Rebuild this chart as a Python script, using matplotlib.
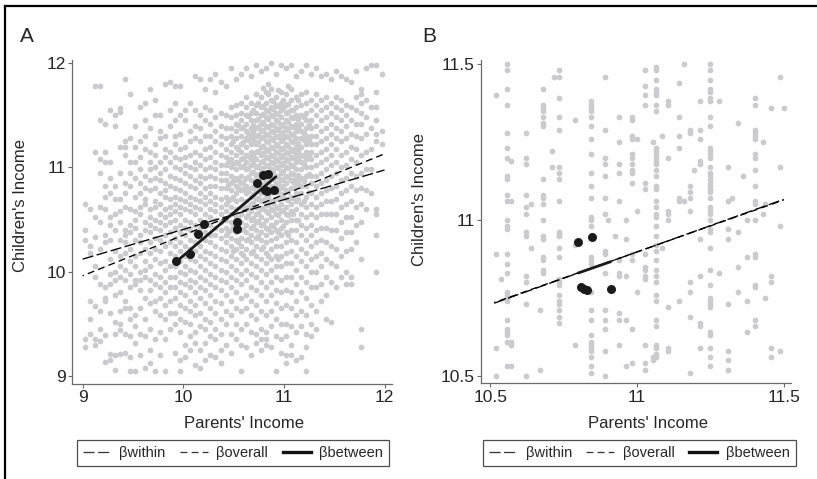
import numpy as np
import matplotlib
matplotlib.use('Agg')
import matplotlib.pyplot as plt
from matplotlib.lines import Line2D

plt.rcParams['font.family'] = ['Liberation Sans', 'DejaVu Sans']
plt.rcParams['lines.scale_dashes'] = False

# ---- panel A: gray cloud, one entry per column (x, list of y) ----
a_cols = [
    (9.02, [10.65, 10.40, 10.30, 9.35, 9.28]),
    (9.07, [10.60, 10.25, 10.18, 9.72, 9.55, 9.40]),
    (9.12, [11.78, 11.15, 10.52, 10.33, 10.05, 9.95, 9.67, 9.35, 9.30]),
    (9.17, [11.78, 11.45, 11.08, 10.95, 10.62, 10.48, 10.22, 9.88, 9.62, 9.45, 9.33]),
    (9.22, [11.42, 11.15, 11.05, 10.82, 10.72, 10.60, 10.35, 10.28, 9.85, 9.75, 9.72, 9.39, 9.13]),
    (9.27, [11.55, 11.05, 10.90, 10.75, 10.52, 10.45, 10.30, 10.12, 9.98, 9.88, 9.60, 9.21, 9.15]),
    (9.32, [11.50, 11.40, 10.82, 10.70, 10.55, 10.40, 10.20, 10.00, 9.92, 9.78, 9.52, 9.40, 9.20, 9.06]),
    (9.37, [11.53, 11.57, 11.20, 10.95, 10.70, 10.58, 10.48, 10.30, 10.15, 10.05, 9.95, 9.80, 9.62, 9.50, 9.44, 9.21]),
    (9.42, [11.85, 11.25, 11.20, 11.12, 10.85, 10.75, 10.62, 10.40, 10.35, 10.28, 10.18, 10.02, 9.92, 9.72, 9.65, 9.40, 9.22]),
    (9.47, [11.70, 11.28, 11.05, 10.95, 10.82, 10.60, 10.45, 10.38, 10.22, 10.10, 9.98, 9.85, 9.65, 9.55, 9.38, 9.18, 9.05]),
    (9.52, [11.40, 11.20, 11.05, 10.90, 10.72, 10.58, 10.50, 10.42, 10.30, 10.15, 10.05, 9.92, 9.88, 9.58, 9.48, 9.32, 9.05]),
    (9.57, [11.58, 11.25, 11.10, 10.98, 10.85, 10.75, 10.62, 10.55, 10.35, 10.28, 10.18, 10.00, 9.92, 9.82, 9.65, 9.40, 9.20]),
    (9.62, [11.62, 11.45, 11.30, 11.18, 10.92, 10.80, 10.70, 10.65, 10.48, 10.40, 10.22, 10.10, 10.02, 9.95, 9.75, 9.55, 9.38, 9.08]),
    (9.67, [11.75, 11.38, 11.15, 11.05, 10.98, 10.88, 10.78, 10.60, 10.52, 10.45, 10.38, 10.28, 10.18, 10.05, 9.92, 9.82, 9.70, 9.45, 9.25, 9.12]),
    (9.72, [11.65, 11.50, 11.22, 11.12, 11.00, 10.90, 10.80, 10.68, 10.62, 10.50, 10.42, 10.32, 10.22, 10.12, 9.98, 9.88, 9.72, 9.62, 9.35, 9.05]),
    (9.77, [11.50, 11.35, 11.28, 11.05, 10.95, 10.88, 10.75, 10.65, 10.55, 10.48, 10.40, 10.30, 10.20, 10.08, 9.95, 9.85, 9.75, 9.58, 9.42, 9.20]),
    (9.82, [11.80, 11.30, 11.18, 11.10, 10.98, 10.85, 10.78, 10.72, 10.60, 10.52, 10.45, 10.35, 10.25, 10.10, 10.02, 9.90, 9.80, 9.68, 9.55, 9.35, 9.05]),
    (9.87, [11.82, 11.55, 11.40, 11.15, 11.05, 10.92, 10.82, 10.70, 10.62, 10.55, 10.48, 10.38, 10.28, 10.18, 10.05, 9.95, 9.85, 9.72, 9.60, 9.45]),
    (9.92, [11.78, 11.62, 11.45, 11.30, 11.22, 11.10, 11.00, 10.90, 10.80, 10.72, 10.65, 10.58, 10.50, 10.42, 10.32, 10.25, 10.15, 10.05, 9.95, 9.85, 9.75, 9.60, 9.50, 9.22]),
    (9.97, [11.78, 11.50, 11.32, 11.18, 11.08, 10.98, 10.88, 10.78, 10.70, 10.62, 10.55, 10.45, 10.38, 10.28, 10.20, 10.10, 10.00, 9.90, 9.80, 9.68, 9.55, 9.42, 9.15, 9.05]),
    (10.02, [11.55, 11.45, 11.20, 11.10, 11.02, 10.95, 10.85, 10.75, 10.68, 10.60, 10.50, 10.42, 10.35, 10.25, 10.15, 10.05, 9.98, 9.88, 9.78, 9.65, 9.52, 9.30, 9.18]),
    (10.07, [11.62, 11.35, 11.25, 11.12, 11.00, 10.92, 10.82, 10.72, 10.65, 10.58, 10.48, 10.40, 10.30, 10.22, 10.12, 10.02, 9.92, 9.85, 9.72, 9.62, 9.50, 9.38, 9.25]),
    (10.12, [11.88, 11.55, 11.40, 11.28, 11.15, 11.05, 10.98, 10.88, 10.80, 10.70, 10.62, 10.55, 10.45, 10.38, 10.28, 10.20, 10.10, 10.00, 9.90, 9.80, 9.68, 9.58, 9.42, 9.32, 9.10]),
    (10.17, [11.85, 11.50, 11.38, 11.25, 11.12, 11.02, 10.92, 10.85, 10.75, 10.68, 10.60, 10.50, 10.42, 10.32, 10.25, 10.15, 10.05, 9.95, 9.85, 9.75, 9.60, 9.48, 9.25, 9.08]),
    (10.22, [11.75, 11.58, 11.45, 11.30, 11.18, 11.08, 10.98, 10.90, 10.80, 10.72, 10.65, 10.55, 10.48, 10.38, 10.30, 10.20, 10.12, 10.02, 9.92, 9.82, 9.70, 9.55, 9.45, 9.32, 9.15]),
    (10.27, [11.85, 11.55, 11.42, 11.30, 11.20, 11.10, 11.00, 10.92, 10.82, 10.75, 10.68, 10.60, 10.52, 10.45, 10.35, 10.28, 10.18, 10.08, 9.98, 9.88, 9.78, 9.65, 9.52, 9.38, 9.20]),
    (10.32, [11.90, 11.72, 11.48, 11.35, 11.25, 11.15, 11.05, 10.98, 10.90, 10.82, 10.72, 10.65, 10.58, 10.50, 10.42, 10.35, 10.25, 10.15, 10.05, 9.95, 9.85, 9.72, 9.60, 9.45, 9.35, 9.18]),
    (10.37, [11.82, 11.52, 11.40, 11.30, 11.22, 11.12, 11.02, 10.95, 10.88, 10.80, 10.70, 10.62, 10.55, 10.48, 10.40, 10.32, 10.22, 10.12, 10.02, 9.92, 9.82, 9.70, 9.55, 9.40, 9.25, 9.12]),
    (10.42, [11.78, 11.50, 11.38, 11.28, 11.18, 11.10, 11.02, 10.95, 10.88, 10.80, 10.72, 10.65, 10.58, 10.50, 10.42, 10.35, 10.28, 10.20, 10.10, 10.00, 9.90, 9.78, 9.62, 9.50, 9.30]),
    (10.47, [11.95, 11.58, 11.48, 11.38, 11.30, 11.22, 11.15, 11.08, 11.00, 10.92, 10.85, 10.78, 10.70, 10.62, 10.55, 10.48, 10.40, 10.32, 10.25, 10.15, 10.05, 9.95, 9.85, 9.72, 9.58, 9.40, 9.22]),
    (10.52, [11.85, 11.60, 11.50, 11.42, 11.35, 11.28, 11.20, 11.12, 11.05, 10.98, 10.90, 10.82, 10.75, 10.68, 10.60, 10.52, 10.45, 10.38, 10.30, 10.22, 10.12, 10.02, 9.92, 9.80, 9.65, 9.50, 9.35]),
    (10.57, [11.90, 11.62, 11.52, 11.45, 11.38, 11.30, 11.22, 11.15, 11.08, 11.00, 10.92, 10.85, 10.78, 10.70, 10.62, 10.55, 10.48, 10.40, 10.32, 10.25, 10.18, 10.08, 9.98, 9.88, 9.75, 9.62, 9.45, 9.30, 9.05]),
    (10.62, [11.95, 11.68, 11.58, 11.50, 11.42, 11.35, 11.28, 11.20, 11.12, 11.05, 10.98, 10.90, 10.82, 10.75, 10.68, 10.60, 10.52, 10.45, 10.38, 10.30, 10.22, 10.12, 10.02, 9.92, 9.78, 9.65, 9.50, 9.28]),
    (10.67, [11.88, 11.62, 11.52, 11.45, 11.38, 11.30, 11.22, 11.15, 11.08, 11.02, 10.95, 10.88, 10.80, 10.72, 10.65, 10.58, 10.50, 10.42, 10.35, 10.28, 10.18, 10.08, 9.98, 9.85, 9.72, 9.58, 9.42, 9.20]),
    (10.72, [11.98, 11.70, 11.60, 11.52, 11.45, 11.38, 11.30, 11.22, 11.15, 11.08, 11.00, 10.92, 10.85, 10.78, 10.70, 10.62, 10.55, 10.48, 10.40, 10.32, 10.25, 10.15, 10.05, 9.95, 9.82, 9.68, 9.55, 9.40, 9.32]),
    (10.77, [11.92, 11.68, 11.58, 11.50, 11.42, 11.35, 11.28, 11.20, 11.12, 11.05, 10.98, 10.90, 10.82, 10.75, 10.68, 10.60, 10.52, 10.45, 10.38, 10.30, 10.22, 10.12, 10.02, 9.90, 9.78, 9.62, 9.45, 9.35, 9.25]),
    (10.82, [11.95, 11.72, 11.62, 11.55, 11.48, 11.40, 11.32, 11.25, 11.18, 11.10, 11.02, 10.95, 10.88, 10.80, 10.72, 10.65, 10.58, 10.50, 10.42, 10.35, 10.28, 10.18, 10.08, 9.98, 9.85, 9.72, 9.58, 9.42, 9.35, 9.30]),
    (10.87, [12.00, 11.75, 11.65, 11.58, 11.50, 11.42, 11.35, 11.28, 11.20, 11.12, 11.05, 10.98, 10.90, 10.82, 10.75, 10.68, 10.60, 10.52, 10.45, 10.38, 10.30, 10.22, 10.12, 10.02, 9.90, 9.78, 9.62, 9.48, 9.28]),
    (10.92, [11.90, 11.68, 11.60, 11.52, 11.45, 11.38, 11.30, 11.22, 11.15, 11.08, 11.00, 10.92, 10.85, 10.78, 10.70, 10.62, 10.55, 10.48, 10.40, 10.32, 10.25, 10.15, 10.05, 9.95, 9.82, 9.70, 9.55, 9.38, 9.05]),
    (10.97, [11.98, 11.72, 11.62, 11.55, 11.48, 11.40, 11.32, 11.25, 11.18, 11.10, 11.02, 10.95, 10.88, 10.80, 10.72, 10.65, 10.58, 10.50, 10.42, 10.35, 10.25, 10.15, 10.05, 9.92, 9.80, 9.65, 9.50, 9.35, 9.22]),
    (11.02, [11.95, 11.70, 11.60, 11.52, 11.45, 11.38, 11.30, 11.22, 11.15, 11.08, 11.00, 10.92, 10.85, 10.78, 10.70, 10.62, 10.55, 10.48, 10.38, 10.28, 10.18, 10.08, 9.95, 9.82, 9.68, 9.50, 9.38, 9.20, 9.12]),
    (11.07, [11.98, 11.75, 11.65, 11.55, 11.48, 11.40, 11.32, 11.25, 11.18, 11.10, 11.02, 10.95, 10.88, 10.80, 10.72, 10.65, 10.58, 10.50, 10.40, 10.30, 10.20, 10.08, 9.95, 9.80, 9.65, 9.48, 9.30, 9.20]),
    (11.12, [11.88, 11.68, 11.58, 11.50, 11.42, 11.35, 11.28, 11.20, 11.12, 11.05, 10.98, 10.90, 10.82, 10.75, 10.68, 10.60, 10.50, 10.40, 10.28, 10.15, 10.02, 9.88, 9.72, 9.58, 9.42, 9.15]),
    (11.17, [11.92, 11.70, 11.60, 11.50, 11.42, 11.35, 11.28, 11.20, 11.12, 11.05, 10.98, 10.90, 10.82, 10.75, 10.65, 10.55, 10.45, 10.35, 10.22, 10.10, 9.95, 9.80, 9.62, 9.48, 9.18]),
    (11.22, [11.98, 11.72, 11.62, 11.52, 11.45, 11.38, 11.30, 11.22, 11.15, 11.08, 11.00, 10.92, 10.82, 10.72, 10.62, 10.52, 10.42, 10.30, 10.18, 10.05, 9.90, 9.75, 9.58, 9.40, 9.28, 9.05]),
    (11.27, [11.90, 11.65, 11.55, 11.45, 11.38, 11.30, 11.22, 11.15, 11.08, 11.00, 10.92, 10.85, 10.75, 10.65, 10.55, 10.45, 10.35, 10.25, 10.12, 10.00, 9.85, 9.68, 9.50, 9.38]),
    (11.32, [11.95, 11.70, 11.60, 11.50, 11.40, 11.30, 11.22, 11.12, 11.02, 10.92, 10.82, 10.72, 10.62, 10.52, 10.40, 10.28, 10.15, 10.00, 9.85, 9.62, 9.45]),
    (11.37, [11.88, 11.65, 11.55, 11.45, 11.35, 11.25, 11.15, 11.05, 10.95, 10.85, 10.75, 10.65, 10.55, 10.42, 10.30, 10.18, 10.05, 9.88, 9.72]),
    (11.42, [11.90, 11.68, 11.58, 11.48, 11.38, 11.28, 11.18, 11.08, 10.98, 10.88, 10.78, 10.68, 10.55, 10.42, 10.28, 10.12, 9.95, 9.78, 9.55]),
    (11.47, [11.85, 11.62, 11.52, 11.42, 11.32, 11.22, 11.12, 11.02, 10.92, 10.80, 10.68, 10.55, 10.40, 10.25, 10.08, 9.90, 9.52]),
    (11.52, [11.92, 11.68, 11.58, 11.48, 11.38, 11.28, 11.18, 11.05, 10.95, 10.82, 10.70, 10.55, 10.40, 10.22, 10.05, 9.85]),
    (11.57, [11.88, 11.65, 11.55, 11.45, 11.35, 11.25, 11.12, 11.00, 10.88, 10.75, 10.62, 10.48, 10.32, 10.15, 9.95]),
    (11.62, [11.85, 11.60, 11.50, 11.40, 11.28, 11.15, 11.02, 10.90, 10.78, 10.65, 10.52, 10.38, 10.20, 10.00, 9.88]),
    (11.67, [11.82, 11.58, 11.45, 11.32, 11.20, 11.08, 10.95, 10.82, 10.68, 10.52, 10.38, 10.22, 9.95, 9.88]),
    (11.72, [11.92, 11.68, 11.55, 11.42, 11.30, 11.18, 11.05, 10.92, 10.78, 10.62, 10.45, 10.28]),
    (11.77, [11.75, 11.70, 11.62, 11.52, 11.42, 11.28, 11.12, 10.95, 10.80, 10.65, 10.48, 10.12, 9.45, 9.28]),
    (11.82, [11.95, 11.65, 11.48, 11.32, 11.15, 10.98, 10.78, 10.60]),
    (11.87, [11.98, 11.58, 11.38, 11.18, 10.98, 10.75]),
    (11.92, [11.98, 11.72, 11.58, 11.45, 11.32, 11.25, 10.60, 10.55, 10.35, 10.00]),
    (11.97, [11.90, 11.35, 11.22]),
]

# extra points filling the dense core of panel A
a_core = [
    (10.445, [11.05, 10.83, 10.68, 10.38]),
    (10.495, [11.25, 11.03, 10.87, 10.72, 10.43, 10.20]),
    (10.545, [11.41, 11.18, 11.04, 10.88, 10.80, 10.51, 10.28]),
    (10.595, [11.39, 11.24, 11.09, 11.01, 10.86, 10.79, 10.64, 10.41, 10.16]),
    (10.645, [11.49, 11.33, 11.26, 11.11, 10.99, 10.91, 10.77, 10.62, 10.54, 10.31]),
    (10.695, [11.55, 11.41, 11.34, 11.26, 11.11, 11.04, 10.96, 10.81, 10.74, 10.66, 10.51, 10.44, 10.20]),
    (10.745, [11.62, 11.46, 11.39, 11.31, 11.24, 11.16, 11.01, 10.94, 10.86, 10.79, 10.71, 10.56, 10.49, 10.34]),
    (10.795, [11.76, 11.59, 11.51, 11.44, 11.36, 11.29, 11.21, 11.14, 11.06, 10.99, 10.91, 10.84, 10.69, 10.61,
              10.46, 10.24]),
    (10.845, [11.80, 11.70, 11.54, 11.46, 11.39, 11.31, 11.24, 11.16, 11.09, 11.01, 10.94, 10.86, 10.71, 10.64,
              10.56, 10.41, 10.15]),
    (10.895, [11.64, 11.56, 11.49, 11.41, 11.34, 11.26, 11.19, 11.11, 11.04, 10.96, 10.89, 10.81, 10.66, 10.59,
              10.44]),
    (10.945, [11.74, 11.59, 11.51, 11.44, 11.36, 11.29, 11.21, 11.14, 11.06, 10.99, 10.91, 10.84, 10.76, 10.61,
              10.54, 10.38, 10.12]),
    (10.995, [11.65, 11.57, 11.42, 11.34, 11.27, 11.19, 11.12, 11.04, 10.97, 10.89, 10.82, 10.74, 10.59, 10.44]),
    (11.045, [11.78, 11.61, 11.53, 11.44, 11.36, 11.29, 11.21, 11.14, 11.06, 10.99, 10.91, 10.76, 10.69, 10.54,
              10.35]),
    (11.095, [11.55, 11.47, 11.39, 11.31, 11.24, 11.16, 11.09, 11.01, 10.94, 10.86, 10.71, 10.55]),
    (11.145, [11.65, 11.46, 11.38, 11.23, 11.16, 11.08, 10.93, 10.86, 10.70, 10.50]),
    (11.195, [11.48, 11.33, 11.26, 11.11, 11.03, 10.87, 10.68]),
    (11.245, [11.41, 11.26, 11.11, 10.94, 10.76]),
]

# panel A: group means and fitted lines
a_mean_x = [9.93, 10.07, 10.15, 10.21, 10.53, 10.53, 10.73, 10.79, 10.84, 10.81, 10.83, 10.90]
a_mean_y = [10.10, 10.17, 10.36, 10.46, 10.48, 10.41, 10.85, 10.93, 10.94, 10.78, 10.77, 10.78]
a_within_x, a_within_y = [9.0, 12.0], [10.12, 10.975]
a_overall_x, a_overall_y = [9.0, 12.0], [9.96, 11.13]
a_between_x, a_between_y = [9.93, 10.92], [10.095, 10.91]

# ---- panel B: gray cloud ----
b_cols = [
    (10.52, [11.40, 10.89, 10.59, 10.50]),
    (10.535, [10.81]),
    (10.555, [11.50, 11.48, 11.42, 11.37, 11.28, 11.23, 11.20, 11.14, 11.13, 11.08, 11.06, 11.00, 10.98,
              10.97, 10.89, 10.86, 10.83, 10.77, 10.76, 10.75, 10.74, 10.68, 10.65, 10.64, 10.63, 10.61, 10.53]),
    (10.57, [11.19, 11.06, 10.61, 10.60, 10.53]),
    (10.62, [11.28, 11.20, 11.18, 11.08, 11.04, 11.02, 10.96, 10.95, 10.82, 10.80, 10.73, 10.50]),
    (10.64, [11.05, 10.91]),
    (10.668, [10.71, 10.52]),
    (10.68, [11.42, 11.37, 11.36, 11.35, 11.33, 11.31, 11.30, 11.13, 11.08, 11.07, 11.05, 11.00, 10.95,
             10.94, 10.88, 10.87, 10.84, 10.83]),
    (10.71, [11.22, 11.17]),
    (10.717, [11.46]),
    (10.735, [11.48, 11.46, 11.39, 11.33, 11.29, 11.17, 11.15, 11.13, 11.06, 10.96, 10.955, 10.95, 10.91,
              10.88, 10.81, 10.80, 10.79, 10.76, 10.74, 10.73, 10.71, 10.69, 10.67]),
    (10.79, [11.32, 10.92, 10.60]),
    (10.842, [11.38, 11.37, 11.36, 11.35, 11.33, 11.30, 11.26, 11.21, 11.15, 11.11, 11.07, 11.01, 11.00,
              10.98, 10.88, 10.87, 10.86, 10.77, 10.71, 10.68, 10.63, 10.61, 10.60, 10.59, 10.58, 10.56,
              10.53, 10.51]),
    (10.892, [11.46, 11.29, 11.20, 11.18, 11.14, 11.07, 11.02, 10.90, 10.89, 10.83, 10.71, 10.68, 10.65,
              10.58, 10.50]),
    (10.90, [11.00]),
    (10.924, [10.95]),
    (10.937, [11.33, 11.25, 11.18, 11.15, 11.06, 10.87, 10.83, 10.82, 10.70, 10.68, 10.60]),
    (10.964, [11.00, 10.94, 10.82, 10.68, 10.53]),
    (10.983, [11.33, 11.32, 11.27, 11.26, 11.21, 11.20, 11.18, 11.16, 11.15, 11.12, 10.89, 10.87, 10.65, 10.54]),
    (11.0, [11.26, 11.03, 10.77]),
    (11.026, [11.48, 11.43, 11.40, 11.37, 11.12, 11.10, 10.89, 10.85, 10.84, 10.82, 10.81, 10.60, 10.54, 10.52]),
    (11.055, [11.25, 10.56, 10.55]),
    (11.066, [11.49, 11.48, 11.45, 11.42, 11.41, 11.40, 11.37, 11.35, 11.23, 11.22, 11.21, 11.20, 11.19,
              11.18, 11.16, 11.14, 11.11, 11.10, 11.06, 11.04, 11.02, 11.01, 10.98, 10.95, 10.92, 10.90,
              10.87, 10.84, 10.82, 10.80, 10.76, 10.74, 10.68, 10.66, 10.60, 10.59, 10.57, 10.56]),
    (11.085, [11.27, 10.91]),
    (11.106, [11.38, 11.37, 11.20, 11.03, 11.02, 11.00, 10.72, 10.59, 10.58]),
    (11.142, [11.44, 11.33, 11.27, 11.23, 11.07, 11.06, 10.74]),
    (11.16, [11.50, 11.06]),
    (11.18, [11.29, 11.28, 11.11, 11.09, 11.07, 11.03, 10.80, 10.77, 10.69, 10.51]),
    (11.193, [11.16]),
    (11.215, [11.38, 11.29, 11.26, 11.19, 11.18, 10.94, 10.82, 10.67, 10.66, 10.59]),
    (11.248, [11.50, 11.48, 11.45, 11.42, 11.41, 11.39, 11.38, 11.33, 11.30, 11.23, 11.22, 11.21, 11.20,
              11.17, 11.15, 11.14, 11.13, 11.12, 11.11, 11.10, 11.095, 11.09, 11.07, 11.04, 11.03, 11.02,
              11.00, 10.97, 10.96, 10.91, 10.84, 10.79, 10.75, 10.74, 10.73, 10.72, 10.64, 10.63, 10.59,
              10.56, 10.53]),
    (11.28, [11.38, 10.83]),
    (11.31, [11.17, 11.06, 10.97, 10.94, 10.73, 10.58, 10.55, 10.52]),
    (11.325, [11.07]),
    (11.345, [11.31, 10.96, 10.85, 10.77]),
    (11.36, [11.14]),
    (11.376, [11.00, 10.88, 10.74, 10.64]),
    (11.404, [11.39, 11.37, 11.29, 11.28, 11.27, 11.26, 11.21, 11.20, 11.16, 11.11, 11.06, 11.05, 11.00,
              10.89, 10.88, 10.79, 10.785, 10.68, 10.66]),
    (11.43, [11.25, 11.02]),
    (11.435, [11.05, 10.75]),
    (11.458, [11.36, 10.82, 10.80, 10.59, 10.56]),
    (11.486, [11.46, 11.17, 10.98, 10.58]),
    (11.50, [11.36]),
]

b_mean_x = [10.80, 10.846, 10.81, 10.82, 10.83, 10.91]
b_mean_y = [10.928, 10.944, 10.786, 10.778, 10.774, 10.779]
b_within_x, b_within_y = [10.513, 11.5], [10.733, 11.066]
b_overall_x, b_overall_y = [10.513, 11.5], [10.735, 11.064]
b_between_x, b_between_y = [10.80, 10.91], [10.83, 10.866]


def expand(cols):
    xs, ys = [], []
    for x, yl in cols:
        xs += [x] * len(yl)
        ys += yl
    return np.array(xs), np.array(ys)


gray = '#cbcbcd'
spine = '#6a6a6a'
txt = '#262626'
WITHIN = (0, (8, 2.5))
OVERALL = (4, (5, 3))

fig = plt.figure(figsize=(8.17, 4.79), dpi=100)
axA = fig.add_axes([0.0881, 0.1983, 0.3913, 0.6764])
axB = fig.add_axes([0.5884, 0.1998, 0.3801, 0.6749])


def panel(ax, cols, mx, my, wx, wy, ox, oy, bx, by):
    gx, gy = expand(cols)
    ax.scatter(gx, gy, s=17, color=gray, linewidths=0, zorder=1)
    ax.plot(wx, wy, color='black', lw=0.95, linestyle=WITHIN, zorder=3)
    ax.plot(ox, oy, color='black', lw=0.95, linestyle=OVERALL, zorder=3)
    ax.plot(bx, by, color='#1a1a1a', lw=2.0, solid_capstyle='round', zorder=4)
    ax.scatter(mx, my, s=42, color='#1a1a1a', linewidths=0, zorder=5)
    for s in ['top', 'right']:
        ax.spines[s].set_visible(False)
    for s in ['left', 'bottom']:
        ax.spines[s].set_color(spine)
        ax.spines[s].set_linewidth(0.9)
    ax.tick_params(direction='out', length=3, width=0.8, color=spine,
                   labelsize=12.5, labelcolor=txt, pad=1.5)
    ax.set_xlabel("Parents' Income", fontsize=12, color=txt)
    ax.set_ylabel("Children's Income", fontsize=12, color=txt)


panel(axA, a_cols + a_core, a_mean_x, a_mean_y, a_within_x, a_within_y,
      a_overall_x, a_overall_y, a_between_x, a_between_y)
axA.set_xlim(8.894, 12.071)
axA.set_ylim(8.922, 12.03)
axA.set_xticks([9, 10, 11, 12])
axA.set_yticks([9, 10, 11, 12])
axA.xaxis.set_label_coords(0.538, -0.10)
axA.yaxis.set_label_coords(-0.138, 0.552)

panel(axB, b_cols, b_mean_x, b_mean_y, b_within_x, b_within_y,
      b_overall_x, b_overall_y, b_between_x, b_between_y)
axB.set_xlim(10.467, 11.526)
axB.set_ylim(10.476, 11.513)
axB.set_xticks([10.5, 11, 11.5])
axB.set_xticklabels(['10.5', '11', '11.5'])
axB.set_yticks([10.5, 11, 11.5])
axB.set_yticklabels(['10.5', '11', '11.5'])
axB.xaxis.set_label_coords(0.539, -0.10)
axB.yaxis.set_label_coords(-0.172, 0.567)

# legends
handles = [Line2D([], [], color='#333333', lw=0.9, dashes=(8, 2.5)),
           Line2D([], [], color='#333333', lw=0.9, dashes=(5, 3)),
           Line2D([], [], color='#111111', lw=2.4)]
labels = ['βwithin', 'βoverall', 'βbetween']
for cx in [0.2852, 0.7827]:
    leg = fig.legend(handles, labels, loc='center', ncol=3,
                     bbox_to_anchor=(cx, 0.0543), fontsize=10.5,
                     handlelength=1.9, handletextpad=0.6, columnspacing=1.0,
                     borderpad=0.4, borderaxespad=0, fancybox=False, frameon=True)
    leg.get_frame().set_edgecolor('#222222')
    leg.get_frame().set_linewidth(0.9)
    for t in leg.get_texts():
        t.set_color(txt)

fig.text(0.0245, 0.923, 'A', fontsize=15, color=txt, va='center')
fig.text(0.5165, 0.923, 'B', fontsize=15, color=txt, va='center')

# outer frame: top and left edges only
fig.add_artist(Line2D([0.0061, 1.0], [0.9875, 0.9875], color='black', lw=1.6))
fig.add_artist(Line2D([0.0061, 0.0061], [0.0, 0.9875], color='black', lw=1.6))

fig.savefig('out.png', dpi=100)
